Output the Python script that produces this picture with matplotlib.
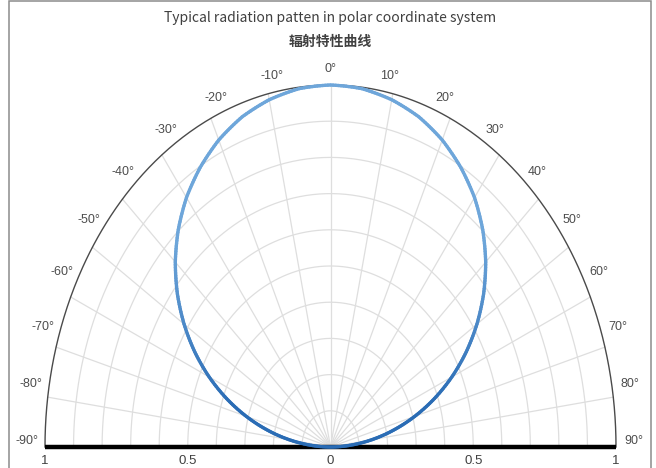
import numpy as np
import matplotlib
matplotlib.use("Agg")
import matplotlib.pyplot as plt
from matplotlib.collections import LineCollection
from matplotlib.colors import to_rgb
from matplotlib.patches import Rectangle

# ---------------- data ----------------
angles_deg = list(range(-90, 91, 5))
intensity = [0.000, 0.068, 0.146, 0.226, 0.307, 0.388, 0.467, 0.543, 0.615,
             0.683, 0.746, 0.803, 0.854, 0.897, 0.934, 0.963, 0.983, 0.996,
             1.000,
             0.996, 0.983, 0.963, 0.934, 0.897, 0.854, 0.803, 0.746, 0.683,
             0.615, 0.543, 0.467, 0.388, 0.307, 0.226, 0.146, 0.068, 0.000]
angle_ticks = list(range(-90, 91, 10))
angle_labels = [f"{a}°" for a in angle_ticks]
radial_grid = [0.1, 0.2, 0.3, 0.4, 0.5, 0.6, 0.7, 0.8, 0.9]
radial_ticks = [-1, -0.5, 0, 0.5, 1]
radial_labels = ["1", "0.5", "0", "0.5", "1"]
title_en = "Typical radiation patten in polar coordinate system"
title_cn = "辐射特性曲线"

# ---------------- figure ----------------
W, H = 656, 468
fig = plt.figure(figsize=(W / 100, H / 100), dpi=100)
fig.patch.set_facecolor("white")

cx, base, Rxp, Ryp = 330.5, 447, 285.5, 362
ax = fig.add_axes([(cx - Rxp) / W, (H - base) / H, 2 * Rxp / W, Ryp / H])
ax.set_xlim(-1, 1)
ax.set_ylim(0, 1)
ax.axis("off")

Rx = ax.bbox.width / 2.0
Ry = ax.bbox.height


def unit_dir(phi_deg):
    p = np.radians(phi_deg)
    dx = np.sin(p) / Rx
    dy = np.cos(p) / Ry
    n = np.hypot(dx, dy)
    return dx / n, dy / n


def to_xy(phi_deg, r):
    ux, uy = unit_dir(np.asarray(phi_deg, dtype=float))
    return np.asarray(r) * ux, np.asarray(r) * uy


fine = np.linspace(-90, 90, 361)
grid_col = "#dedede"
# radial grid arcs
for rg in radial_grid:
    gx, gy = to_xy(fine, rg)
    ax.plot(gx, gy, color=grid_col, lw=0.9, zorder=1, clip_on=False)
# spokes
for a in angle_ticks:
    if abs(a) == 90:
        continue
    ex, ey = to_xy(a, 1.0)
    ax.plot([0, ex], [0, ey], color=grid_col, lw=0.9, zorder=1, clip_on=False)
# outer arc
ox, oy = to_xy(fine, 1.0)
ax.plot(ox, oy, color="#4a4a4a", lw=1.0, zorder=2, clip_on=False)
# baseline
ax.plot([radial_ticks[0], radial_ticks[-1]], [0, 0], color="black", lw=3.2,
        zorder=4, solid_capstyle="butt", clip_on=False)

# curve: segments drawn in (angle, r) space like a polar projection does,
# coloured with a vertical gradient
steps = 12
seg_list = []
for i in range(len(angles_deg) - 1):
    t = np.linspace(0, 1, steps + 1)
    ph = angles_deg[i] + (angles_deg[i + 1] - angles_deg[i]) * t
    rr = intensity[i] + (intensity[i + 1] - intensity[i]) * t
    sx, sy = to_xy(ph, rr)
    p = np.column_stack([sx, sy])
    seg_list.extend(np.stack([p[:-1], p[1:]], axis=1))
segs = np.array(seg_list)
c_bot = np.array(to_rgb("#2a6cb5"))
c_top = np.array(to_rgb("#6ea6da"))
cols = []
for s in segs:
    ym = s[:, 1].mean()
    tt = np.clip((ym - 0.12) / 0.45, 0, 1)
    cols.append(c_bot * (1 - tt) + c_top * tt)
lc = LineCollection(segs, colors=cols, linewidths=2.4, capstyle="round",
                    joinstyle="round", zorder=5, clip_on=False)
ax.add_collection(lc)

# angle labels: placed between an outer ellipse point and an offset point
for a, lab in zip(angle_ticks, angle_labels):
    p = np.radians(a)
    ux, uy = unit_dir(a)
    dxp, dyp = ux * Rx, uy * Ry
    off = 18
    d1x = dxp + off * np.sin(p)
    d1y = dyp + off * np.cos(p)
    d2x = (Rx + 17) * np.sin(p)
    d2y = (Ry + 14) * np.cos(p)
    lx = 0.5 * (d1x + d2x)
    ly = 0.5 * (d1y + d2y) + 6 * (1 - abs(np.cos(p))) ** 2
    fig.text((cx + lx) / W, (H - base + ly) / H, lab, ha="center",
             va="center", fontsize=9, color="#4d4d4d",
             family="Liberation Sans")

# radial labels
for v, lab in zip(radial_ticks, radial_labels):
    ax.annotate(lab, (v, 0), xytext=(0, -14), textcoords="offset pixels",
                ha="center", va="center", fontsize=9.5, color="#404040",
                family="Liberation Sans", annotation_clip=False)

# titles
fig.text(cx / W, 1 - 18 / H, title_en, ha="center", va="center",
         fontsize=10, color="#404040", fontweight="medium",
         family=["Noto Sans CJK SC", "DejaVu Sans"])
fig.text(cx / W, 1 - 42 / H, title_cn, ha="center", va="center",
         fontsize=10, color="#404040", fontweight="bold",
         family=["Noto Sans CJK SC", "DejaVu Sans"])

# frame
fig.add_artist(Rectangle((8.5 / W, -0.1), (650.5 - 8.5) / W, 1.1 - 1.5 / H,
                         transform=fig.transFigure, fill=False,
                         edgecolor="#8c8c8c", lw=1.1))

fig.savefig("out.png", dpi=100, facecolor="white")
